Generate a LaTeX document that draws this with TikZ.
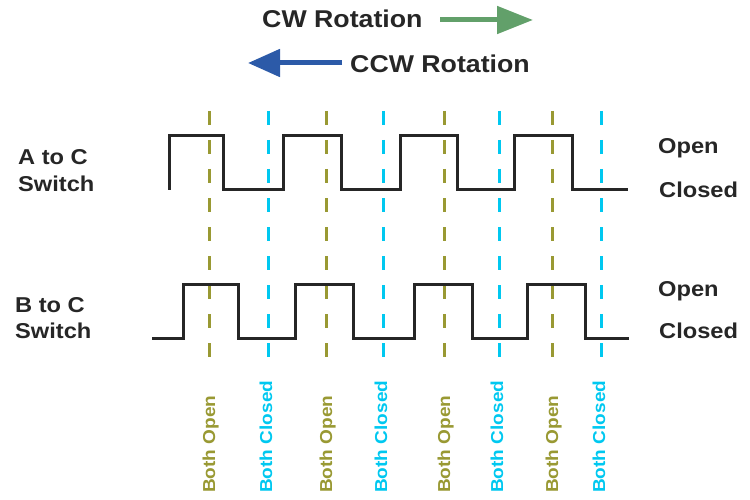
\documentclass[tikz,border=0pt]{standalone}
\usepackage{fontspec}
\setmainfont{Liberation Sans}[FakeStretch=1.1]
\usetikzlibrary{arrows.meta}
\definecolor{wavegray}{RGB}{38,38,38}
\definecolor{oliveline}{RGB}{153,153,51}
\definecolor{cyanline}{RGB}{0,200,240}
\definecolor{cwgreen}{RGB}{98,160,106}
\definecolor{ccwblue}{RGB}{44,90,168}
\tikzset{
  wave/.style={line width=3pt, color=wavegray, line join=miter},
  opendash/.style={line width=3pt, color=oliveline, dash pattern=on 14pt off 15pt},
  closeddash/.style={line width=3pt, color=cyanline, dash pattern=on 14pt off 15pt},
  lbl/.style={inner sep=0pt, anchor=base west, text=wavegray, font=\bfseries\fontsize{21.5}{26}\selectfont},
  vlbl/.style={inner sep=0pt, anchor=base west, rotate=90, font=\bfseries\fontsize{17.3}{20}\selectfont},
}
\begin{document}
\begin{tikzpicture}[x=1pt, y=-1pt]
			%%%%% START %%%%%
			\useasboundingbox (0, 0) rectangle (750, 500);

			% direction of rotation
			\node[lbl, font=\bfseries\fontsize{24.3}{28}\selectfont] (cw) at (262, 28) {CW Rotation};
			\node[lbl, font=\bfseries\fontsize{24.3}{28}\selectfont] (ccw) at (350, 73) {CCW Rotation};
			\coordinate (cwtail) at (440, 20);
			\coordinate (cwtip) at (533, 20);
			\coordinate (ccwtail) at (342, 63);
			\coordinate (ccwtip) at (248, 63);
			\draw[line width=5pt, color=cwgreen, -{Triangle[length=36pt, width=27pt]}] (cwtail) -- (cwtip);
			\draw[line width=5pt, color=ccwblue, -{Triangle[length=32pt, width=27pt]}] (ccwtail) -- (ccwtip);

			% dashed markers
			\foreach \xo/\xc in {209/268, 326/383, 444/499, 552/601} {
				\draw[opendash] (\xo, 111) -- (\xo, 360);
				\draw[closeddash] (\xc, 111) -- (\xc, 360);
				\node[vlbl, text=oliveline] at (\xo+6, 493) {Both Open};
				\node[vlbl, text=cyanline] at (\xc+4, 493) {Both Closed};
			}

			% A to C switch
			\draw[wave] (169, 190) -- (169, 136) -- (223, 136) -- (223, 190) -- (283, 190) -- (283, 136) -- (341, 136) -- (341, 190) -- (400, 190) -- (400, 136) -- (457, 136) -- (457, 190) -- (514, 190) -- (514, 136) -- (572, 136) -- (572, 190) -- (628, 190);

			% B to C switch
			\draw[wave] (152, 338) -- (183, 338) -- (183, 284) -- (238, 284) -- (238, 338) -- (295, 338) -- (295, 284) -- (353, 284) -- (353, 338) -- (414, 338) -- (414, 284) -- (472, 284) -- (472, 338) -- (527, 338) -- (527, 284) -- (585, 284) -- (585, 338) -- (629, 338);

			\node[lbl, align=left] (atoc) at (18, 191) {A to C\\Switch};
			\node[lbl, align=left] (btoc) at (15, 338) {B to C\\Switch};

			\node[lbl] (aopen) at (658, 154) {Open};
			\node[lbl] (aclosed) at (659, 197) {Closed};
			\node[lbl] (bopen) at (658, 296) {Open};
			\node[lbl] (bclosed) at (659, 338) {Closed};
			%%%%% END %%%%%
\end{tikzpicture}
\end{document}
